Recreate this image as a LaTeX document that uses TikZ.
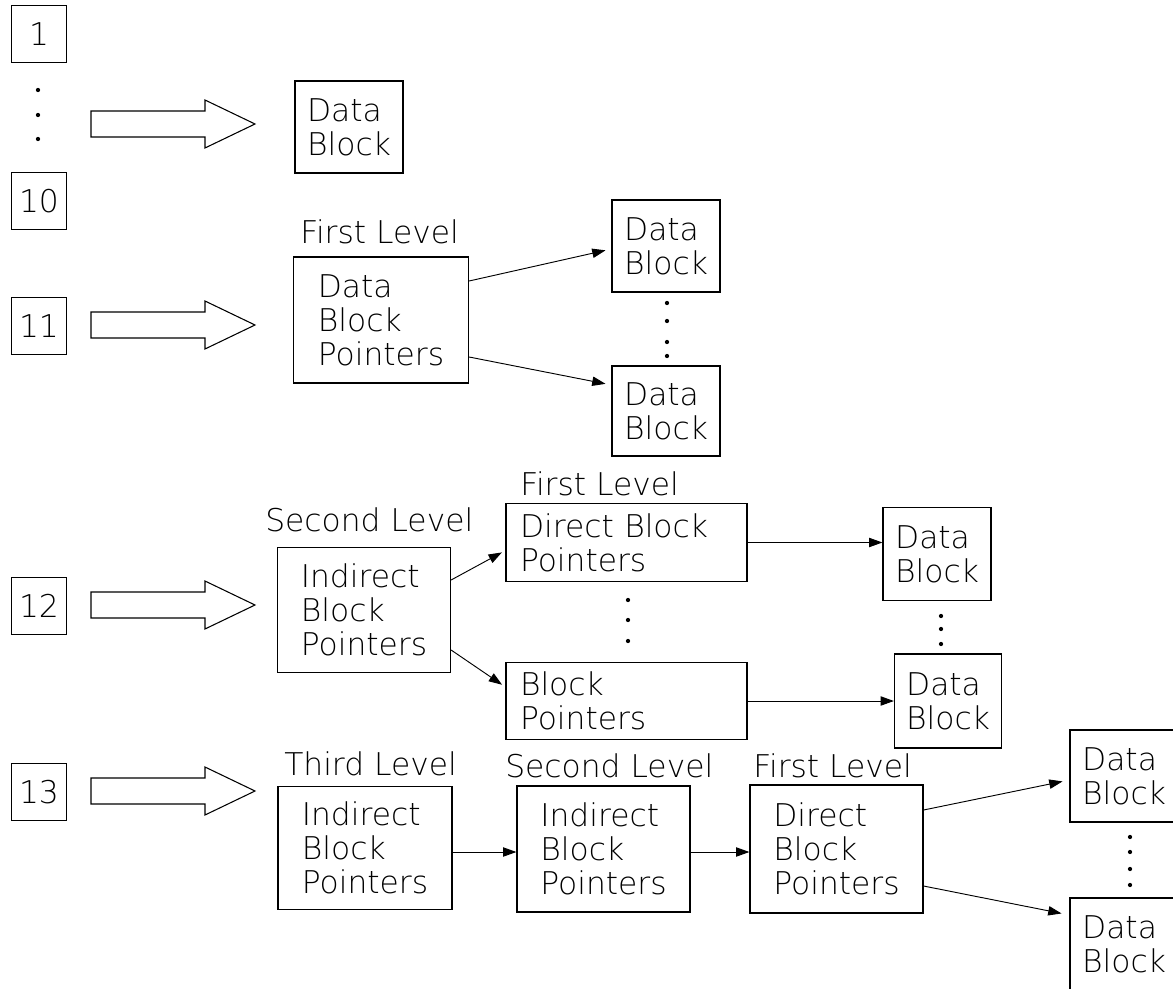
\documentclass[tikz,border=0pt]{standalone}
\usepackage{fontspec}
\setmainfont{DejaVuSans-ExtraLight.ttf}
\usetikzlibrary{arrows.meta,calc}

\begin{document}
\begin{tikzpicture}[x=0.75pt,y=-0.75pt,
  every node/.style={font=\fontsize{23.5}{25.5}\selectfont},
  box/.style 2 args={draw, line width=0.9pt, inner sep=0pt, align=left,
    minimum width=#1*0.75pt, minimum height=#2*0.75pt},
  ptrbox/.style={draw, line width=0.9pt, align=left, inner xsep=10.5pt,
    inner ysep=0pt, text width=159.75pt, minimum height=58pt},
  lvl/.style={anchor=base west, inner sep=0pt},
  link/.style={line width=0.7pt, -{Triangle[length=10pt,width=7pt]}},
  fat/.pic={\draw[line width=0.8pt] (0,-13) -- (114,-13) -- (114,-24)
     -- (164,0) -- (114,24) -- (114,13) -- (0,13) -- cycle;},
  dot/.style={fill=black}]

\fill[white] (0,0) rectangle (1173,988);
\useasboundingbox (0,0) rectangle (1173,988);

% inode slots
\node[box={55}{57}, align=center] (b1)  at (39,34)  {1};
\node[box={55}{57}, align=center] (b10) at (39,201) {10};
\node[box={55}{57}, align=center] (b11) at (39,326) {11};
\node[box={55}{57}, align=center] (b12) at (39,606) {12};
\node[box={55}{57}, align=center] (b13) at (39,792) {13};
\foreach \y in {90,115,139} \fill[dot] (38,\y) circle (1.6pt);

% wide arrows from the slots
\pic at (91,124) {fat};
\pic at (91,325) {fat};
\pic at (91,605) {fat};
\pic at (91,791) {fat};

% direct blocks
\node[box={108}{92}] (d0) at (349,127) {Data\\Block};

% single indirect
\node[lvl] (t1) at (300,243) {First Level};
\node[box={175}{126}] (L1) at (381,320) {Data\\Block\\Pointers};
\node[box={108}{92}] (d1a) at (666,246) {Data\\Block};
\node[box={108}{90}] (d1b) at (666,411) {Data\\Block};
\foreach \y in {303,321,342,356} \fill[dot] (667,\y) circle (1.6pt);
\draw[link, shorten >=4.5pt] ($(L1.east)+(0,-39)$) -- ($(d1a.west)+(0,3)$);
\draw[link, shorten >=4.5pt] ($(L1.east)+(0,37)$) -- ($(d1b.west)+(0,-26)$);

% double indirect
\node[lvl] (t2) at (265,531) {Second Level};
\node[box={173}{125}] (L2) at (364,610) {Indirect\\Block\\Pointers};
\node[lvl] (t3) at (520,495) {First Level};
\node[ptrbox] (D12) at (626.5,542.5) {Direct Block\\Pointers};
\node[ptrbox] (B12) at (626.5,701) {Block\\Pointers};
\foreach \y in {600,620,641} \fill[dot] (628,\y) circle (1.6pt);
\node[box={108}{93}] (d2a) at (937,554) {Data\\Block};
\node[box={107}{94}] (d2b) at (948,701) {Data\\Block};
\foreach \y in {616,629,644} \fill[dot] (941,\y) circle (1.6pt);
\draw[link, shorten >=3pt] ($(L2.east)+(0,-30)$) -- ($(D12.west)+(0,8)$);
\draw[link, shorten >=3pt] ($(L2.east)+(0,40)$) -- ($(B12.west)+(0,-14)$);
\draw[link] (D12.east) -- (D12.east -| d2a.west);
\draw[link] (B12.east) -- (B12.east -| d2b.west);

% triple indirect
\node[lvl] (t4) at (284,775) {Third Level};
\node[box={174}{123}] (T3) at (365,848) {Indirect\\Block\\Pointers};
\node[lvl] (t5) at (505,777) {Second Level};
\node[box={173}{126}] (S3) at (603.5,849) {Indirect\\Block\\Pointers};
\node[lvl] (t6) at (753,777) {First Level};
\node[box={173}{128}] (F3) at (836.5,849) {Direct\\Block\\Pointers};
\node[box={108}{92}] (d3a) at (1124,776) {Data\\Block};
\node[box={108}{92}] (d3b) at (1124,944) {Data\\Block};
\foreach \y in {837,852,869,885} \fill[dot] (1130,\y) circle (1.6pt);
\draw[link] ($(T3.east)+(0,4)$) -- ($(S3.west)+(0,3)$);
\draw[link] ($(S3.east)+(0,3)$) -- ($(F3.west)+(0,3)$);
\draw[link, shorten >=5.25pt] ($(F3.east)+(0,-39)$) -- ($(d3a.west)+(0,4)$);
\draw[link, shorten >=6pt] ($(F3.east)+(0,37)$) -- ($(d3b.west)+(0,-29)$);
\end{tikzpicture}
\end{document}
